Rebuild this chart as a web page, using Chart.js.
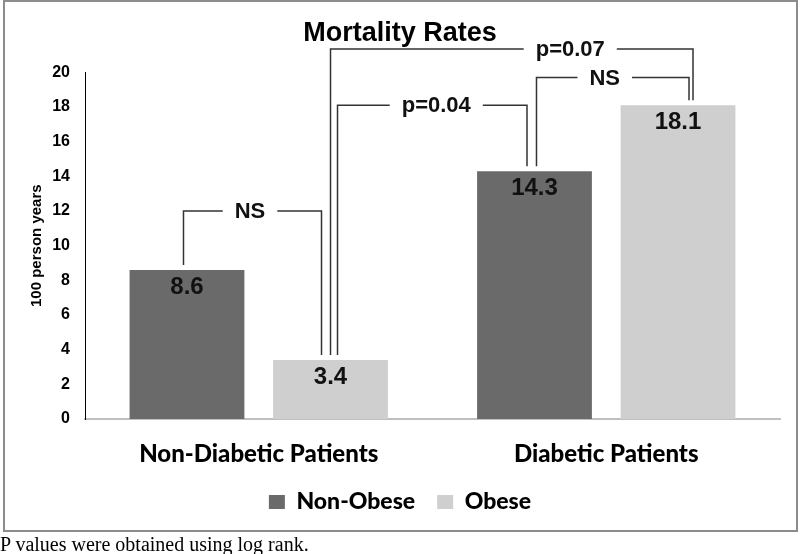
<!DOCTYPE html>
<html lang="en">
<head>
  <meta charset="UTF-8" />
  <title>Mortality Rates</title>
  <script src="https://cdn.jsdelivr.net/npm/chart.js"></script>
  <style>
    html, body { margin: 0; padding: 0; background: #fff; }
    body { width: 800px; height: 554px; position: relative; overflow: hidden; }
    #marco { position: absolute; left: 3px; top: 0; width: 795px; height: 532px; box-sizing: border-box; border: 2px solid #8c8c8c; }
    #grafico { position: absolute; left: 0; top: 0; }
    #nota { position: absolute; left: 0; top: 533px; margin: 0; font-family: 'Liberation Serif', serif; font-size: 20px; line-height: 22px; color: #000; }
  </style>
</head>
<body>
  <div id="marco"></div>
  <canvas id="grafico" width="800" height="554"></canvas>
  <p id="nota">P values were obtained using log rank.</p>

  <script>
    // datos
    const categorias = ["Non-Diabetic Patients", "Diabetic Patients"];
    const series = ["Non-Obese", "Obese"];
    const noObesos = [8.6, 14.3];
    const obesos = [3.4, 18.1];
    // comparaciones: [serie, categoria] de cada extremo y altura del corchete (en unidades del eje)
    const corchetes = [
      { texto: "NS", desde: [0, 0], hasta: [1, 0], nivel: 12.0 },
      { texto: "p=0.07", desde: [1, 0], hasta: [1, 1], nivel: 21.35 },
      { texto: "p=0.04", desde: [1, 0], hasta: [0, 1], nivel: 18.1 },
      { texto: "NS", desde: [0, 1], hasta: [1, 1], nivel: 19.7 }
    ];

    const humanista = "Lato, 'Open Sans', sans-serif";
    const normal = "'Liberation Sans', Arial, sans-serif";

    // ajustes de dibujo de los corchetes (px)
    const desvioPatas = [[-3.5, -9], [0, 15], [7, -7.5], [2, 11]];
    const desvioTexto = [-2.5, 58.5, 4, -8];

    const etiquetas = {
      id: "etiquetas",
      afterDatasetsDraw(chart) {
        const ctx = chart.ctx;
        ctx.save();
        ctx.font = "bold 24px " + normal;
        ctx.fillStyle = "#111";
        ctx.textAlign = "center";
        ctx.textBaseline = "top";
        chart.data.datasets.forEach((ds, d) => {
          chart.getDatasetMeta(d).data.forEach((barra, i) => {
            ctx.fillText(ds.data[i].toFixed(1), barra.x, barra.y + 5);
          });
        });
        ctx.restore();
      }
    };

    const llaves = {
      id: "llaves",
      afterDraw(chart) {
        const ctx = chart.ctx;
        const y = chart.scales.y;
        const barra = (p) => chart.getDatasetMeta(p[0]).data[p[1]];
        ctx.save();
        ctx.strokeStyle = "#333";
        ctx.lineWidth = 1.5;
        ctx.font = "bold 22px " + normal;
        ctx.fillStyle = "#111";
        ctx.textAlign = "center";
        ctx.textBaseline = "middle";
        corchetes.forEach((c, k) => {
          const a = barra(c.desde), b = barra(c.hasta);
          const x1 = a.x + desvioPatas[k][0];
          const x2 = b.x + desvioPatas[k][1];
          const yt = y.getPixelForValue(c.nivel);
          const cx = (x1 + x2) / 2 + desvioTexto[k];
          const mitad = ctx.measureText(c.texto).width / 2 + 12;
          ctx.beginPath();
          ctx.moveTo(x1, a.y - 5);
          ctx.lineTo(x1, yt);
          ctx.lineTo(cx - mitad, yt);
          ctx.moveTo(cx + mitad, yt);
          ctx.lineTo(x2, yt);
          ctx.lineTo(x2, b.y - 5);
          ctx.stroke();
          ctx.fillText(c.texto, cx, yt + 1);
        });
        ctx.restore();
      }
    };

    new Chart(document.getElementById("grafico"), {
      type: "bar",
      data: {
        labels: categorias,
        datasets: [
          { label: series[0], data: noObesos, backgroundColor: "#6a6a6a", borderWidth: 0 },
          { label: series[1], data: obesos, backgroundColor: "#cfcfcf", borderWidth: 0 }
        ]
      },
      options: {
        responsive: false,
        animation: false,
        categoryPercentage: 0.826,
        barPercentage: 0.8,
        layout: { padding: { left: 20, right: 20, top: 0, bottom: 30.5 } },
        plugins: {
          title: {
            display: true,
            text: "Mortality Rates",
            color: "#000",
            font: { family: normal, size: 27, weight: "bold" },
            padding: { top: 17, bottom: 23 }
          },
          legend: {
            position: "bottom",
            labels: {
              color: "#000",
              font: { family: humanista, size: 23, weight: "900" },
              boxWidth: 16,
              boxHeight: 14,
              padding: 22
            }
          },
          tooltip: { enabled: false }
        },
        scales: {
          x: {
            grid: { display: false },
            border: { color: "#bfbfbf", width: 2 },
            ticks: { color: "#000", font: { family: humanista, size: 24, weight: "900" }, padding: 13 },
            afterFit: s => { s.height = 49.5; }
          },
          y: {
            min: 0,
            max: 20,
            ticks: { stepSize: 2, color: "#000", font: { family: normal, size: 16, weight: "bold" }, padding: 15 },
            grid: { display: false, drawTicks: false },
            border: { color: "#000", width: 1 },
            title: {
              display: true,
              text: "100 person years",
              color: "#000",
              font: { family: normal, size: 15, weight: "bold" },
              padding: { top: 8, bottom: 0 }
            },
            afterFit: s => { s.width = 65; }
          }
        }
      },
      plugins: [etiquetas, llaves]
    });
  </script>
</body>
</html>
